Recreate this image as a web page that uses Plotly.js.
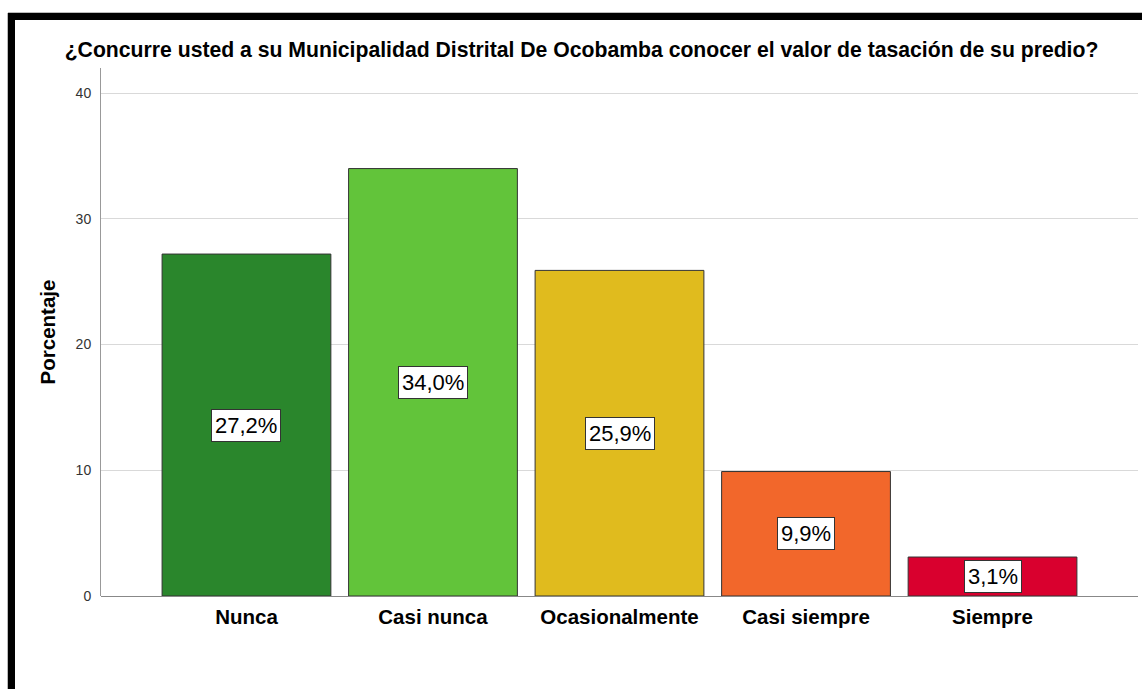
<!DOCTYPE html>
<html>
<head>
<meta charset="utf-8">
<script src="https://cdn.plot.ly/plotly-3.0.1.min.js"></script>
<style>
  html, body { margin: 0; padding: 0; background: #fff; }
  #wrap { position: relative; width: 1142px; height: 689px; overflow: hidden; }
  #chart { position: absolute; left: 0; top: 0; width: 1142px; height: 689px; }
  .bt { position: absolute; left: 8px; top: 13px; width: 1134px; height: 7px; background: #000; border-top: 1px solid #bbb; margin-top: -1px; }
  .bl { position: absolute; left: 8px; top: 13px; width: 7px; height: 676px; background: #000; border-left: 1px solid #bbb; margin-left: -1px; }
</style>
</head>
<body>
<div id="wrap">
  <div id="chart"></div>
  <div class="bt"></div>
  <div class="bl"></div>
</div>
<script>
const categories = ["Nunca", "Casi nunca", "Ocasionalmente", "Casi siempre", "Siempre"];
const percentages = [27.2, 34.0, 25.9, 9.9, 3.1];
const barColors = ["#2a862c", "#62c43a", "#e0bb1e", "#f2672b", "#d9002e"];
const yTicks = [0, 10, 20, 30, 40];
const chartTitle = "¿Concurre usted a su Municipalidad Distrital De Ocobamba conocer el valor de tasación de su predio?";
const yTitle = "Porcentaje";

const fontFam = "Liberation Sans, Arial, sans-serif";

const trace = {
  type: "bar",
  x: categories,
  y: percentages,
  width: 0.905,
  marker: { color: barColors, line: { color: "#333333", width: 1 } },
  hoverinfo: "none"
};

const annotations = categories.map((c, i) => ({
  x: c,
  y: percentages[i] / 2,
  xref: "x",
  yref: "y",
  text: percentages[i].toFixed(1).replace(".", ",") + "%",
  showarrow: false,
  bgcolor: "#ffffff",
  bordercolor: "#333333",
  borderwidth: 1,
  borderpad: 3,
  font: { family: fontFam, size: 22, color: "#000" }
}));

const layout = {
  width: 1142,
  height: 689,
  margin: { l: 101, r: 4, t: 68, b: 93 },
  paper_bgcolor: "#ffffff",
  plot_bgcolor: "#ffffff",
  showlegend: false,
  bargap: 0.1,
  title: {
    text: chartTitle,
    font: { family: fontFam, size: 21.2, color: "#000", weight: "bold" },
    x: 0.4634,
    xanchor: "center",
    xref: "paper",
    y: 1 - 50 / 689,
    yanchor: "middle",
    yref: "container"
  },
  xaxis: {
    type: "category",
    range: [-0.78, 4.78],
    showgrid: false,
    showline: false,
    zeroline: false,
    ticks: "",
    tickfont: { family: fontFam, size: 20.5, color: "#000", weight: "bold" },
    ticklabelstandoff: 6,
    fixedrange: true
  },
  yaxis: {
    range: [0, 42],
    tickvals: yTicks,
    ticktext: yTicks.map(String),
    showgrid: true,
    gridcolor: "#d9d9d9",
    gridwidth: 1,
    showline: true,
    linecolor: "#999999",
    linewidth: 1,
    zeroline: true,
    zerolinecolor: "#888888",
    zerolinewidth: 1,
    ticks: "",
    ticklabelstandoff: 6,
    tickfont: { family: fontFam, size: 14, color: "#333" },
    title: {
      text: yTitle,
      font: { family: fontFam, size: 20.5, color: "#000", weight: "bold" },
      standoff: 14
    },
    fixedrange: true
  },
  annotations: annotations
};

Plotly.newPlot("chart", [trace], layout, { displayModeBar: false, staticPlot: true });
</script>
</body>
</html>
